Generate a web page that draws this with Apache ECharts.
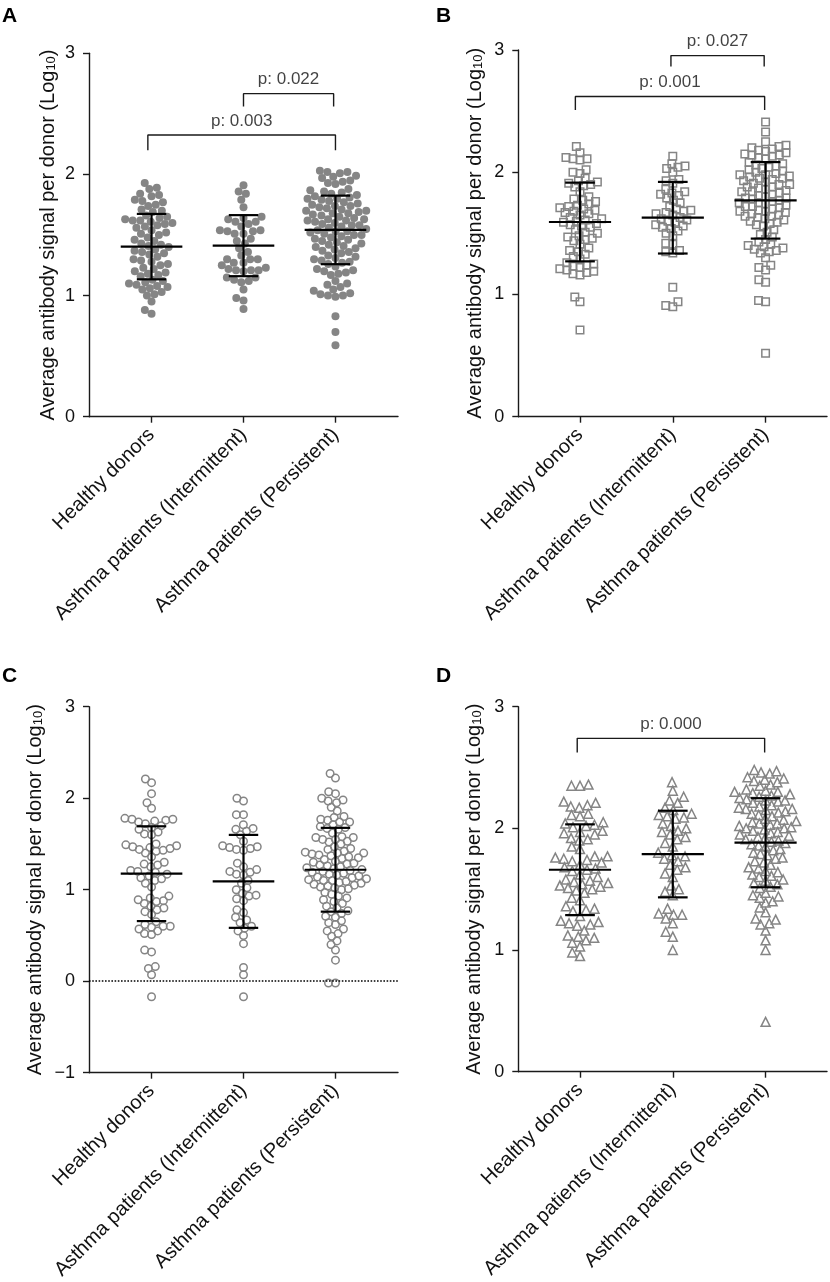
<!DOCTYPE html>
<html><head><meta charset="utf-8">
<script src="https://cdn.jsdelivr.net/npm/echarts@6/dist/echarts.min.js"></script>
<style>html,body{margin:0;padding:0;background:#fff}#c{width:830px;height:1282px}</style>
</head><body><div id="c"></div>
<script>
const categories = ['Healthy donors', 'Asthma patients (Intermittent)', 'Asthma patients (Persistent)'];
const yTicksAB = [0, 1, 2, 3];
const yTicksC = [-1, 0, 1, 2, 3];

// Panel A (filled circles)
const aHealthy = [1.93,1.89,1.88,1.84,1.83,1.82,1.79,1.78,1.77,1.75,1.74,1.71,1.70,1.69,
  1.66,1.65,1.64,1.63,1.62,1.62,1.61,1.60,1.59,1.58,1.57,1.56,
  1.54,1.52,1.51,1.50,1.48,1.46,1.45,
  1.43,1.42,1.41,1.40,1.38,1.37,1.36,1.35,1.34,
  1.32,1.30,1.29,1.28,1.26,1.25,
  1.23,1.22,1.20,1.19,1.18,1.17,1.16,
  1.13,1.12,1.11,1.10,1.09,1.08,1.07,1.06,1.05,
  1.03,1.01,1.00,0.95,0.88,0.85];
const aInter = [1.91,1.86,1.84,1.79,1.73,1.65,1.64,1.63,1.61,1.61,1.59,1.57,1.54,1.54,1.53,1.53,1.51,1.51,
  1.47,1.45,1.43,1.39,1.36,1.33,1.30,1.30,1.30,1.27,1.27,1.25,1.23,1.22,1.21,1.21,1.21,1.20,
  1.15,1.15,1.13,1.12,1.11,1.05,0.98,0.96,0.89];
const aPers = [2.03,2.02,2.02,2.01,1.99,1.98,1.97,1.95,1.94,1.93,1.92,
  1.88,1.87,1.86,1.85,1.84,1.83,1.82,1.81,1.80,1.80,1.79,1.78,1.77,
  1.76,1.75,1.74,1.74,1.73,1.72,1.71,1.70,1.70,1.69,1.68,1.68,1.67,
  1.66,1.65,1.64,1.63,1.63,1.62,1.62,1.61,1.60,1.59,1.58,1.58,1.57,
  1.56,1.55,1.54,1.53,1.53,1.52,1.51,1.50,1.50,1.49,1.48,1.47,1.46,
  1.45,1.44,1.43,1.42,1.41,1.40,1.39,1.38,1.37,1.36,
  1.35,1.33,1.32,1.31,1.30,1.29,1.28,1.27,1.26,
  1.24,1.22,1.21,1.20,1.19,1.18,1.17,
  1.12,1.10,1.09,1.07,1.05,1.04,
  1.02,1.01,1.00,1.00,0.99,0.83,0.70,0.59];
const aMean = [1.404, 1.412, 1.542];
const aSD = [0.270, 0.252, 0.283];

// Panel B (open squares)
const bHealthy = [2.21,2.16,2.12,2.11,2.11,2.10,2.02,2.00,1.99,1.95,1.93,1.92,1.91,1.90,1.89,1.88,
  1.84,1.80,1.78,1.77,1.76,1.74,1.73,1.72,1.71,1.70,1.69,1.68,1.67,1.66,1.65,
  1.63,1.62,1.61,1.60,1.59,1.58,1.57,1.56,1.55,1.53,1.51,1.50,1.48,1.47,1.46,1.45,1.44,
  1.41,1.38,1.36,1.35,1.33,1.31,1.29,
  1.26,1.25,1.24,1.23,1.22,1.21,1.20,1.19,1.18,1.17,1.16,
  0.98,0.94,0.71];
const bInter = [2.13,2.07,2.05,2.04,2.03,2.00,1.94,1.93,1.91,
  1.86,1.84,1.83,1.82,1.81,1.79,1.77,1.75,
  1.72,1.70,1.69,1.68,1.67,1.66,1.65,
  1.63,1.62,1.61,1.60,1.59,1.57,1.56,1.55,1.54,1.52,1.50,1.48,
  1.42,1.41,1.36,1.35,1.34,1.06,0.94,0.91,0.90];
const bPers = [2.41,2.33,2.25,2.22,2.21,2.20,2.19,2.18,2.17,2.16,2.15,2.14,2.14,2.13,2.12,2.11,
  2.08,2.07,2.06,2.05,2.04,2.03,2.02,2.01,2.00,1.99,1.98,1.98,1.97,1.96,1.95,1.95,1.94,1.93,1.92,1.91,1.90,1.90,
  1.88,1.88,1.87,1.86,1.85,1.84,1.84,1.83,1.82,1.81,1.80,1.79,1.79,1.78,1.77,1.76,1.75,1.75,1.74,1.73,1.72,1.72,1.71,1.70,
  1.69,1.68,1.68,1.67,1.66,1.65,1.64,1.64,1.63,1.62,1.61,1.60,1.59,1.58,1.57,1.56,
  1.53,1.51,1.49,1.47,1.45,1.43,
  1.41,1.40,1.39,1.38,1.37,1.36,1.35,1.34,1.30,
  1.24,1.22,1.20,1.12,1.10,0.95,0.94,0.52];
const bMean = [1.593, 1.628, 1.770];
const bSD = [0.322, 0.293, 0.313];

// Panel C (open circles)
const cHealthy = [2.21,2.17,2.05,1.95,1.89,
  1.78,1.77,1.77,1.76,1.75,1.74,1.72,1.70,1.68,1.66,1.63,1.61,1.60,
  1.50,1.49,1.48,1.47,1.46,1.45,1.44,1.43,1.42,1.40,1.36,
  1.30,1.28,1.27,1.25,1.21,1.20,1.19,1.17,1.15,1.13,1.12,1.10,1.07,1.03,
  0.93,0.91,0.89,0.88,0.87,0.85,0.82,0.80,0.78,0.76,0.73,
  0.65,0.62,0.60,0.60,0.59,0.57,0.55,0.52,0.51,
  0.34,0.32,0.16,0.14,0.07,-0.17];
const cInter = [2.00,1.97,1.82,1.82,1.71,1.67,1.66,1.64,1.60,
  1.53,1.48,1.47,1.46,1.45,1.44,1.43,
  1.29,1.25,1.22,1.20,1.19,1.17,1.16,1.10,1.07,1.02,1.00,
  0.96,0.94,0.93,0.90,0.88,0.78,0.75,0.70,0.67,0.64,
  0.60,0.58,0.55,0.50,0.41,0.15,0.07,-0.17];
const cPers = [2.27,2.22,2.07,2.05,2.00,1.98,1.97,1.95,1.90,1.86,
  1.80,1.79,1.77,1.76,1.74,1.74,1.71,1.69,1.68,1.67,1.66,
  1.62,1.58,1.57,1.57,1.55,1.55,1.53,1.52,1.50,1.47,1.45,1.44,1.42,
  1.41,1.40,1.40,1.39,1.38,1.37,1.36,1.35,1.34,1.33,1.31,1.30,1.29,1.28,1.27,1.26,1.25,1.24,1.23,1.22,1.21,1.20,
  1.19,1.18,1.17,1.16,1.15,1.14,1.13,1.12,1.11,1.10,1.10,1.09,1.08,1.07,1.06,1.05,1.04,1.03,1.02,1.01,1.00,
  0.97,0.95,0.93,0.91,0.89,0.87,0.85,0.82,0.80,0.77,0.76,0.74,0.71,0.70,0.66,0.64,0.62,0.57,0.55,0.52,0.49,
  0.44,0.40,0.34,0.23,-0.02,-0.02];
const cMean = [1.175, 1.091, 1.218];
const cSD = [0.518, 0.508, 0.458];

// Panel D (open triangles)
const dHealthy = [2.36,2.35,2.35,2.22,2.21,2.19,2.18,2.17,2.12,2.11,2.10,
  2.05,2.04,2.03,2.02,2.01,1.98,1.97,1.96,1.95,1.92,1.91,1.90,
  1.85,1.83,1.77,1.77,1.76,1.75,1.74,1.73,1.72,1.70,
  1.68,1.67,1.66,1.65,1.62,1.60,1.58,1.57,1.56,1.55,1.54,1.53,1.52,1.51,1.50,1.49,1.47,
  1.43,1.41,1.36,1.34,1.33,1.32,1.28,
  1.24,1.23,1.22,1.21,1.20,1.16,1.12,1.11,1.10,1.08,1.06,1.03,0.98,0.95];
const dInter = [2.38,2.31,2.26,2.23,2.21,2.17,2.15,2.12,2.11,2.10,2.09,2.08,
  2.04,2.02,2.00,1.98,1.97,1.95,1.93,1.91,1.88,1.85,
  1.80,1.78,1.77,1.75,1.73,1.70,1.68,1.66,1.63,1.60,
  1.53,1.50,1.48,1.45,1.34,1.30,1.29,1.29,1.26,1.22,1.15,1.11,1.00];
const dPers = [2.48,2.47,2.46,2.45,2.42,2.41,2.40,2.39,2.38,2.36,2.35,
  2.32,2.31,2.30,2.30,2.29,2.28,2.27,2.26,2.25,2.24,2.23,2.23,2.22,2.21,
  2.19,2.18,2.17,2.16,2.16,2.15,2.14,2.13,2.12,2.11,2.10,
  2.08,2.07,2.06,2.05,2.04,2.04,2.03,2.02,2.01,2.00,2.00,1.99,1.98,1.97,
  1.96,1.95,1.94,1.93,1.92,1.91,1.90,1.89,1.88,1.87,1.86,1.85,
  1.83,1.82,1.80,1.79,1.78,1.76,1.75,1.73,1.72,1.70,
  1.68,1.67,1.65,1.64,1.62,1.61,1.60,1.58,1.57,1.55,1.54,1.52,1.51,
  1.47,1.45,1.44,1.43,1.40,1.39,1.35,1.31,
  1.26,1.25,1.22,1.21,1.16,1.08,1.00,0.41];
const dMean = [1.660, 1.789, 1.882];
const dSD = [0.373, 0.356, 0.366];

// significance brackets: [fromX, toX, topY, dropY, text]
const bracketsA = [[-0.04, 2.0, 2.326, 2.20, 'p: 0.003'], [1.0, 1.98, 2.667, 2.56, 'p: 0.022']];
const bracketsB = [[-0.05, 1.99, 2.619, 2.51, 'p: 0.001'], [0.98, 1.985, 2.954, 2.864, 'p: 0.027']];
const bracketsC = [];
const bracketsD = [[-0.03, 1.99, 2.74, 2.624, 'p: 0.000']];

const FONT = "'Liberation Sans', Arial, Helvetica, sans-serif";
const GRAY = '#858585';

const panels = [
  {letter:'A', groups:[aHealthy,aInter,aPers], mean:aMean, sd:aSD, br:bracketsA, yMin:0, yMax:3,
   grid:{left:89, top:53.3, width:309, height:363.4}, xMin:-0.68, xMax:2.68, nameGap:31,
   symbol:'circle', size:8, filled:true, lx:2, ly:6, zero:false},
  {letter:'B', groups:[bHealthy,bInter,bPers], mean:bMean, sd:bSD, br:bracketsB, yMin:0, yMax:3,
   grid:{left:518.3, top:50, width:308.7, height:366.7}, xMin:-0.665, xMax:2.662, nameGap:33,
   symbol:'rect', size:7.5, filled:false, lx:436, ly:6, zero:false},
  {letter:'C', groups:[cHealthy,cInter,cPers], mean:cMean, sd:cSD, br:bracketsC, yMin:-1, yMax:3,
   grid:{left:89, top:706.7, width:309, height:366}, xMin:-0.68, xMax:2.68, nameGap:44,
   symbol:'circle', size:7.5, filled:false, lx:2, ly:666, zero:true},
  {letter:'D', groups:[dHealthy,dInter,dPers], mean:dMean, sd:dSD, br:bracketsD, yMin:0, yMax:3,
   grid:{left:518.3, top:706.7, width:308.7, height:365}, xMin:-0.665, xMax:2.662, nameGap:34,
   symbol:'triangle', size:9, filled:false, lx:436, ly:666, zero:false}
];

function swarm(values, pxPerY, D, capPx) {
  const idx = values.map((v, i) => i).sort((a, b) => values[a] - values[b]);
  const placed = [];
  const offs = new Array(values.length).fill(0);
  for (const i of idx) {
    const y = values[i] * pxPerY;
    const ivs = [];
    for (const p of placed) {
      const dy = Math.abs(p.y - y);
      if (dy < D) { const w = Math.sqrt(D * D - dy * dy); ivs.push([p.x - w, p.x + w]); }
    }
    const cands = [0];
    ivs.forEach(iv => cands.push(iv[0], iv[1]));
    cands.sort((a, b) => Math.abs(a) - Math.abs(b));
    let x = 0;
    for (const c of cands) {
      if (ivs.every(iv => c <= iv[0] + 1e-6 || c >= iv[1] - 1e-6)) { x = c; break; }
    }
    placed.push({x, y});
    offs[i] = x;
  }
  const maxAbs = Math.max(1e-6, ...offs.map(Math.abs));
  const s = maxAbs > capPx ? capPx / maxAbs : 1;
  return offs.map(o => o * s);
}

const grid = [], xAxis = [], yAxis = [], series = [], graphic = [];
panels.forEach((P, k) => {
  grid.push(Object.assign({containLabel:false, outerBoundsMode:'none'}, P.grid));
  xAxis.push({
    type:'value', gridIndex:k, min:P.xMin, max:P.xMax,
    axisLine:{show:true, onZero:false, lineStyle:{color:'#1a1a1a', width:1.4}},
    axisTick:{show:true, length:6, customValues:[0,1,2], lineStyle:{color:'#1a1a1a', width:1.4}},
    splitLine:{show:false},
    axisLabel:{customValues:[0,1,2], rotate:45, margin:15, fontSize:20, color:'#111', fontFamily:FONT,
      formatter: v => categories[Math.round(v)] || ''}
  });
  yAxis.push({
    type:'value', gridIndex:k, min:P.yMin, max:P.yMax, interval:1,
    axisLine:{show:true, onZero:false, lineStyle:{color:'#1a1a1a', width:1.4}},
    axisTick:{show:true, length:6, lineStyle:{color:'#1a1a1a', width:1.4}},
    splitLine:{show:false},
    axisLabel:{fontSize:18, color:'#111', margin:14, fontFamily:FONT,
      formatter: v => v < 0 ? '\u2212' + Math.abs(v) : String(v)},
    name:'Average antibody signal per donor (Log{sub|10})',
    nameLocation:'middle', nameRotate:90, nameGap:P.nameGap,
    nameTextStyle:{fontSize:20, color:'#111', fontFamily:FONT,
      rich:{sub:{fontSize:13, color:'#111', fontFamily:FONT, verticalAlign:'bottom', padding:[7,0,0,0]}}}
  });
  const pxPerY = P.grid.height / (P.yMax - P.yMin);
  const pxPerX = P.grid.width / (P.xMax - P.xMin);
  P.groups.forEach((vals, g) => {
    const offs = swarm(vals, pxPerY, P.size * 0.95, 31);
    const s = {
      type:'scatter', xAxisIndex:k, yAxisIndex:k, symbol:P.symbol, symbolSize:P.size,
      data: vals.map((v, i) => [g + offs[i] / pxPerX, v]),
      itemStyle: P.filled ? {color:GRAY, opacity:1} : {color:'rgba(0,0,0,0)', borderColor:GRAY, borderWidth:1.5, opacity:1},
      silent:true, z:2
    };
    if (P.zero && g === 0) {
      s.markLine = {silent:true, symbol:['none','none'], label:{show:false},
        lineStyle:{type:'dotted', color:'#000', width:1.6}, data:[{yAxis:0}]};
    }
    series.push(s);
  });
  series.push({
    type:'custom', xAxisIndex:k, yAxisIndex:k, z:5, silent:true,
    data: P.mean.map((m, g) => [g, m, P.sd[g]]),
    renderItem: (params, api) => {
      const g = api.value(0), m = api.value(1), sd = api.value(2);
      const st = {stroke:'#000', lineWidth:2.2};
      const L = (a, b) => ({type:'line', shape:{x1:a[0], y1:a[1], x2:b[0], y2:b[1]}, style:st});
      return {type:'group', children:[
        L(api.coord([g - 0.335, m]), api.coord([g + 0.335, m])),
        L(api.coord([g, m + sd]), api.coord([g, m - sd])),
        L(api.coord([g - 0.16, m + sd]), api.coord([g + 0.16, m + sd])),
        L(api.coord([g - 0.16, m - sd]), api.coord([g + 0.16, m - sd]))
      ]};
    }
  });
  P.br.forEach(b => {
    series.push({
      type:'line', xAxisIndex:k, yAxisIndex:k, clip:false, silent:true, symbol:'none', z:4,
      lineStyle:{color:'#1a1a1a', width:1.4},
      data:[[b[0], b[3]], [b[0], b[2]], [b[1], b[2]], [b[1], b[3]]]
    });
    series.push({
      type:'scatter', xAxisIndex:k, yAxisIndex:k, clip:false, silent:true, symbolSize:1, z:4,
      itemStyle:{color:'rgba(0,0,0,0)'},
      label:{show:true, position:'top', distance:5, formatter:b[4], fontSize:17, color:'#111', fontFamily:FONT},
      data:[[(b[0] + b[1]) / 2, b[2]]]
    });
  });
  graphic.push({type:'text', left:P.lx, top:P.ly, silent:true,
    style:{text:P.letter, fontSize:21, fontWeight:'bold', fill:'#000', fontFamily:FONT}});
});

const chart = echarts.init(document.getElementById('c'), null, {renderer:'canvas'});
chart.setOption({animation:false, backgroundColor:'#fff', grid, xAxis, yAxis, series, graphic});
</script>
</body></html>
